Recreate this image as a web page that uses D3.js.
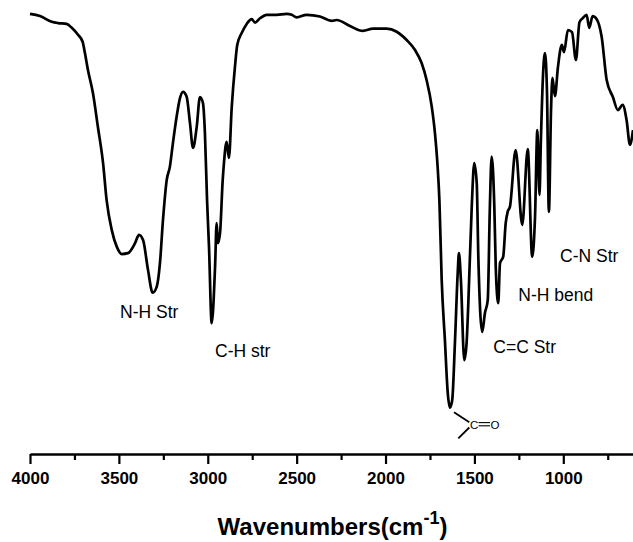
<!DOCTYPE html>
<html>
<head>
<meta charset="utf-8">
<script src="https://cdn.jsdelivr.net/npm/d3@7"></script>
<style>
  html, body { margin: 0; padding: 0; background: #fff; }
  svg { display: block; }
</style>
</head>
<body>
<svg id="chart" width="633" height="542"></svg>
<script>
// ---- data (wavenumber in cm^-1, transmittance in %) ----
const wavenumbers = [
  4000, 3944, 3878, 3843, 3794, 3765, 3730, 3704, 3691, 3674,
  3646, 3618, 3589, 3569, 3540, 3512, 3484, 3449, 3409, 3387,
  3364, 3336, 3310, 3287, 3269, 3252, 3231, 3213, 3196, 3175,
  3156, 3139, 3119, 3100, 3083, 3062, 3044, 3027, 3016, 3004,
  2993, 2978, 2959, 2950, 2943, 2931, 2916, 2909, 2894, 2881,
  2865, 2847, 2834, 2809, 2781, 2753, 2734, 2706, 2669, 2612,
  2556, 2528, 2500, 2444, 2369, 2303, 2275, 2200, 2127, 2071,
  1994, 1937, 1881, 1834, 1797, 1769, 1740, 1722, 1707, 1697,
  1684, 1666, 1650, 1638, 1625, 1609, 1594, 1587, 1576, 1557,
  1544, 1535, 1515, 1501, 1487, 1478, 1456, 1441, 1425, 1413,
  1403, 1388, 1380, 1366, 1356, 1338, 1324, 1313, 1300, 1268,
  1231, 1200, 1175, 1159, 1146, 1134, 1126, 1114, 1103, 1092,
  1081, 1069, 1061, 1047, 1030, 1008, 996, 974, 951, 929,
  909, 889, 869, 854, 835, 812, 784, 756, 721, 693,
  666, 644, 625, 608
];
const transmittance = [
  99.1, 98.6, 97.3, 97.0, 96.8, 95.9, 94.3, 92.7, 90.1, 86.2,
  80.9, 73.1, 64.8, 56.3, 49.4, 45.6, 43.9, 44.1, 46.4, 48.3,
  47.1, 40.2, 35.0, 36.4, 41.8, 51.7, 60.9, 64.0, 69.4, 75.5,
  79.8, 81.2, 80.1, 74.0, 68.3, 73.2, 80.0, 78.6, 71.7, 56.3,
  45.5, 28.0, 40.9, 51.0, 46.4, 48.7, 60.9, 64.8, 69.7, 66.0,
  77.8, 87.0, 92.0, 94.7, 96.8, 97.9, 97.1, 98.1, 98.9, 98.9,
  99.1, 98.9, 98.3, 98.9, 98.5, 97.5, 97.7, 96.3, 95.2, 95.7,
  95.7, 95.0, 93.1, 90.8, 87.8, 83.9, 77.8, 71.7, 64.0, 56.3,
  37.9, 24.1, 12.0, 8.6, 10.3, 24.1, 39.5, 44.1, 37.9, 19.5,
  23.4, 31.8, 54.8, 64.8, 60.2, 43.3, 26.0, 30.3, 33.3, 54.8,
  66.3, 54.8, 41.0, 32.6, 41.8, 43.3, 51.0, 53.6, 54.8, 67.8,
  50.6, 68.0, 43.3, 52.5, 72.4, 57.5, 70.1, 85.1, 90.1, 81.6,
  53.6, 77.0, 84.4, 80.2, 86.9, 92.0, 90.3, 95.4, 94.9, 88.5,
  97.2, 98.2, 98.9, 95.9, 98.6, 97.9, 93.8, 83.9, 80.0, 77.0,
  78.2, 74.7, 69.0, 72.4
];
const majorTicks = [4000, 3500, 3000, 2500, 2000, 1500, 1000];
const minorTicks = [3750, 3250, 2750, 2250, 1750, 1250, 750];
const bandLabels = ["N-H Str", "C-H str", "C=C Str", "N-H bend", "C-N Str"];
const xTitle = "Wavenumbers(cm";
const xTitleSup = "-1";

// ---- layout ----
const svg = d3.select("#chart");
const axisY = 454;
const x = d3.scaleLinear().domain([4000, 600]).range([30, 634.4]);
const y = d3.scaleLinear().domain([0, 100]).range([445, 10]);
const font = "'Liberation Sans', Arial, Helvetica, sans-serif";

const data = wavenumbers.map((w, i) => ({ w, t: transmittance[i] }));

// spectrum
const line = d3.line()
  .x(d => x(d.w))
  .y(d => y(d.t))
  .curve(d3.curveMonotoneX);

svg.append("path")
  .datum(data)
  .attr("d", line)
  .attr("fill", "none")
  .attr("stroke", "#000")
  .attr("stroke-width", 2.7)
  .attr("stroke-linejoin", "round");

// minor ticks
const minorAxis = svg.append("g")
  .attr("transform", `translate(0,${axisY})`)
  .call(d3.axisBottom(x).tickValues(minorTicks).tickSize(6).tickSizeOuter(0).tickFormat(""));
minorAxis.select(".domain").remove();
minorAxis.selectAll("line").attr("stroke", "#000").attr("stroke-width", 2.2);

// major axis
const majorAxis = svg.append("g")
  .attr("transform", `translate(0,${axisY})`)
  .call(d3.axisBottom(x).tickValues(majorTicks).tickSize(10).tickSizeOuter(0).tickPadding(8).tickFormat(d3.format("d")));
majorAxis.select(".domain").attr("stroke", "#000").attr("stroke-width", 2.6);
majorAxis.selectAll("line").attr("stroke", "#000").attr("stroke-width", 2.2);
majorAxis.selectAll("text")
  .attr("font-family", font)
  .attr("font-size", 17)
  .attr("font-weight", "bold")
  .attr("fill", "#000");

// axis title
const title = svg.append("text")
  .attr("x", x(2000) - 53)
  .attr("y", 535)
  .attr("text-anchor", "middle")
  .attr("font-family", font)
  .attr("font-size", 24)
  .attr("font-weight", "bold")
  .attr("fill", "#000");
title.append("tspan").text(xTitle);
title.append("tspan").attr("dy", -11).attr("font-size", 18).text(xTitleSup);
title.append("tspan").attr("dy", 11).text(")");

// band labels
const labelPos = [
  [120, 318.3], [215, 357.3], [493.3, 352.7], [518.3, 300.7], [560, 262.3]
];
svg.selectAll("text.band")
  .data(bandLabels)
  .enter().append("text")
  .attr("class", "band")
  .attr("x", (d, i) => labelPos[i][0])
  .attr("y", (d, i) => labelPos[i][1])
  .attr("font-family", font)
  .attr("font-size", 17.5)
  .attr("fill", "#000")
  .text(d => d);

// C=O carbonyl sketch
const co = svg.append("g").attr("stroke", "#000").attr("stroke-width", 1.8);
co.append("line").attr("x1", 454).attr("y1", 412.3).attr("x2", 469.3).attr("y2", 422.3);
co.append("line").attr("x1", 469.3).attr("y1", 427.5).attr("x2", 458.3).attr("y2", 438.3);
co.append("line").attr("x1", 478.5).attr("y1", 422.6).attr("x2", 490).attr("y2", 422.6).attr("stroke-width", 1.1);
co.append("line").attr("x1", 478.5).attr("y1", 425.8).attr("x2", 490).attr("y2", 425.8).attr("stroke-width", 1.1);
svg.append("text").attr("x", 474.2).attr("y", 428.5).attr("text-anchor", "middle")
  .attr("font-family", font).attr("font-size", 11.5).text("C");
svg.append("text").attr("x", 495).attr("y", 428.5).attr("text-anchor", "middle")
  .attr("font-family", font).attr("font-size", 11.5).text("O");
</script>
</body>
</html>
